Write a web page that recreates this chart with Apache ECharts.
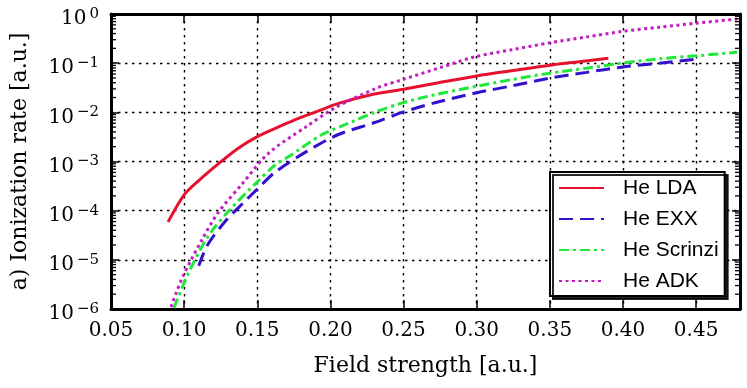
<!DOCTYPE html>
<html>
<head>
<meta charset="utf-8">
<script src="https://cdn.jsdelivr.net/npm/echarts@6.0.0/dist/echarts.min.js"></script>
<style>
  html, body { margin: 0; padding: 0; background: #fff; }
  #chart { width: 747px; height: 388px; }
</style>
</head>
<body>
<div id="chart"></div>
<script>
// field strength [a.u.] and ionization rate [a.u.]
const ldaField = [0.089, 0.100, 0.110, 0.125, 0.137, 0.150, 0.160, 0.176, 0.190, 0.205, 0.230, 0.250, 0.272, 0.300, 0.325, 0.350, 0.370, 0.390];
const ldaRate  = [5.9e-5, 2.1e-4, 4.1e-4, 9.8e-4, 1.86e-3, 3.2e-3, 4.4e-3, 7.1e-3, 1.02e-2, 1.5e-2, 2.35e-2, 2.95e-2, 3.9e-2, 5.5e-2, 7.1e-2, 9.1e-2, 0.107, 0.126];

const exxField = [0.110, 0.116, 0.128, 0.140, 0.150, 0.162, 0.183, 0.205, 0.231, 0.250, 0.272, 0.300, 0.325, 0.349, 0.375, 0.399, 0.425, 0.449];
const exxRate  = [7.6e-6, 2.0e-5, 6.0e-5, 1.4e-4, 2.75e-4, 6.0e-4, 1.55e-3, 3.5e-3, 6.3e-3, 1.02e-2, 1.58e-2, 2.5e-2, 3.5e-2, 4.9e-2, 6.5e-2, 8.3e-2, 0.100, 0.120];

const scrField = [0.093, 0.103, 0.116, 0.130, 0.149, 0.163, 0.171, 0.194, 0.210, 0.231, 0.250, 0.272, 0.300, 0.325, 0.349, 0.375, 0.399, 0.425, 0.450, 0.478];
const scrRate  = [1.05e-6, 5.4e-6, 2.9e-5, 9.5e-5, 3.6e-4, 8.9e-4, 1.23e-3, 3.5e-3, 5.6e-3, 1.02e-2, 1.58e-2, 2.3e-2, 3.4e-2, 4.7e-2, 6.2e-2, 7.9e-2, 0.100, 0.123, 0.141, 0.166];

const adkField = [0.091, 0.099, 0.112, 0.123, 0.140, 0.158, 0.183, 0.203, 0.2315, 0.249, 0.275, 0.299, 0.325, 0.349, 0.375, 0.399, 0.425, 0.450, 0.478];
const adkRate  = [1.1e-6, 4.5e-6, 2.5e-5, 8.9e-5, 3.6e-4, 1.5e-3, 5.0e-3, 1.23e-2, 3.1e-2, 4.6e-2, 8.1e-2, 0.135, 0.19, 0.257, 0.34, 0.44, 0.54, 0.65, 0.79];

const seriesNames = ['He LDA', 'He EXX', 'He Scrinzi', 'He ADK'];

// log minor ticks: 2..9 in every decade
const minorMultipliers = [2, 3, 4, 5, 6, 7, 8, 9];
const decades = [-6, -5, -4, -3, -2, -1];

const pairs = (xs, ys) => xs.map((x, i) => [x, ys[i]]);

let minorTicks = [];
decades.forEach(d => minorMultipliers.forEach(m => minorTicks.push([0.1, m * Math.pow(10, d)])));

const serif = 'DejaVu Serif';
const frame = { show: true, lineStyle: { color: '#000', width: 3 } };
const grid = { lineStyle: { color: '#000', width: 1.4, type: [2.5, 4.5] } };
const majorTick = { inside: true, length: 9, lineStyle: { color: '#000', width: 1.5 } };

let chart = echarts.init(document.getElementById('chart'));
chart.setOption({
  animation: false,
  backgroundColor: '#fff',
  grid: { left: 111, right: 7, top: 14, bottom: 79 },
  legend: {
    data: seriesNames,
    orient: 'vertical',
    left: 550, top: 172,
    // itemHeight 1 shrinks the marker the line legend icon always carries
    itemWidth: 45, itemHeight: 1, itemGap: 9,
    padding: [5, 6, 4, 8],
    backgroundColor: '#fff',
    borderColor: '#000', borderWidth: 2,
    shadowColor: 'rgba(0,0,0,0.85)', shadowOffsetX: 3, shadowOffsetY: 3,
    formatter: name => '{g|}{n|' + name + '}',
    textStyle: {
      lineHeight: 22,
      rich: {
        g: { width: 14 },
        n: { fontFamily: 'Liberation Sans', fontSize: 21, color: '#000', lineHeight: 22 }
      }
    }
  },
  xAxis: [{
    type: 'value', min: 0.05, max: 0.48, interval: 0.05,
    name: 'Field strength [a.u.]', nameLocation: 'middle', nameGap: 46,
    nameTextStyle: { fontFamily: serif, fontSize: 22, color: '#000' },
    axisLine: frame,
    axisTick: majorTick,
    axisLabel: { fontFamily: serif, fontSize: 20, color: '#000', margin: 12, showMaxLabel: false,
      formatter: v => v.toFixed(2) },
    splitLine: grid
  }, {
    type: 'value', min: 0.05, max: 0.48, interval: 0.05, position: 'top',
    axisLine: frame,
    axisTick: majorTick,
    axisLabel: { show: false }, splitLine: { show: false }
  }],
  yAxis: [{
    type: 'log', logBase: 10, min: 1e-6, max: 1, interval: 1,
    name: 'a) Ionization rate [a.u.]', nameLocation: 'middle', nameGap: 80,
    nameTextStyle: { fontFamily: serif, fontSize: 22, color: '#000' },
    axisLine: frame,
    axisTick: { inside: true, length: 8, lineStyle: { color: '#000', width: 1.5 } },
    axisLabel: {
      margin: 12, padding: [10, 0, 0, 0],
      formatter: v => {
        const e = Math.round(Math.log10(v));
        return '{b|10}{s|' + (e < 0 ? '\u2212' + (-e) : e) + '}';
      },
      rich: {
        b: { fontFamily: serif, fontSize: 20, lineHeight: 20, color: '#000' },
        s: { fontFamily: serif, fontSize: 15, lineHeight: 15, color: '#000', padding: [0, 0, 10, 3] }
      }
    },
    splitLine: grid
  }, {
    type: 'log', logBase: 10, min: 1e-6, max: 1, interval: 1, position: 'right',
    axisLine: frame,
    axisTick: { inside: true, length: 8, lineStyle: { color: '#000', width: 1.5 } },
    axisLabel: { show: false }, splitLine: { show: false }
  }],
  series: [{
    name: 'He LDA', type: 'line', data: pairs(ldaField, ldaRate), symbol: 'none', smooth: 0.3,
    lineStyle: { color: '#e8112d', width: 3 }, itemStyle: { color: '#e8112d' }
  }, {
    name: 'He EXX', type: 'line', data: pairs(exxField, exxRate), symbol: 'none', smooth: 0.3,
    lineStyle: { color: '#3311cc', width: 3, type: [14, 7] }, itemStyle: { color: '#3311cc' }
  }, {
    name: 'He Scrinzi', type: 'line', data: pairs(scrField, scrRate), symbol: 'none', smooth: 0.3,
    lineStyle: { color: '#1fe83a', width: 3, type: [10, 4, 3, 4] }, itemStyle: { color: '#1fe83a' }
  }, {
    name: 'He ADK', type: 'line', data: pairs(adkField, adkRate), symbol: 'none', smooth: 0.3,
    lineStyle: { color: '#c41bc4', width: 3, type: [3, 3.5] }, itemStyle: { color: '#c41bc4' }
  }, {
    name: 'minor', type: 'custom', data: minorTicks, silent: true, z: 5,
    renderItem: (params, api) => {
      const y = api.coord([api.value(0), api.value(1)])[1];
      const cs = params.coordSys;
      const st = { stroke: '#000', lineWidth: 1.3 };
      return { type: 'group', children: [
        { type: 'line', shape: { x1: cs.x, y1: y, x2: cs.x + 5, y2: y }, style: st },
        { type: 'line', shape: { x1: cs.x + cs.width - 5, y1: y, x2: cs.x + cs.width, y2: y }, style: st }
      ] };
    }
  }]
});
</script>
</body>
</html>
